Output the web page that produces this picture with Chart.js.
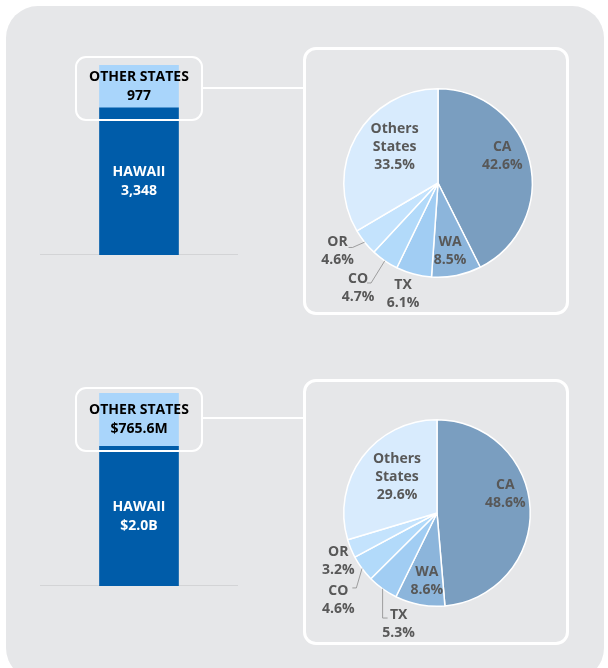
<!DOCTYPE html>
<html>
<head>
<meta charset="utf-8">
<script src="https://cdn.jsdelivr.net/npm/chart.js@4"></script>
<style>
  body { margin: 0; width: 608px; height: 668px; overflow: hidden; position: relative; background: #fff; font-family: "Open Sans", sans-serif; }
  #panel { position: absolute; left: 6px; top: 6px; width: 598px; height: 674px; background: #e6e7e9; border-radius: 32px; }
  .abs { position: absolute; }
  .tag { position: absolute; border: 2.5px solid #fff; border-radius: 11px; box-sizing: border-box; pointer-events: none; }
  .frame { position: absolute; border: 3px solid #fff; border-radius: 13px; box-sizing: border-box; }
  .link { position: absolute; height: 2px; background: #fff; }
</style>
</head>
<body>
<div id="panel"></div>

<!-- rangée du haut : visiteurs -->
<div class="frame" style="left:303px;top:47px;width:266px;height:268px"></div>
<canvas id="bar1" class="abs" style="left:40px;top:60px" width="198" height="195"></canvas>
<div class="tag" style="left:75px;top:56px;width:128px;height:65px"></div>
<div class="link" style="left:202px;top:87px;width:102px"></div>
<canvas id="pie1" class="abs" style="left:306px;top:50px" width="260" height="262"></canvas>

<!-- rangée du bas : dépenses -->
<div class="frame" style="left:303px;top:379px;width:266px;height:266px"></div>
<canvas id="bar2" class="abs" style="left:40px;top:388px" width="198" height="198"></canvas>
<div class="tag" style="left:75px;top:387px;width:128px;height:65px"></div>
<div class="link" style="left:202px;top:417px;width:102px"></div>
<canvas id="pie2" class="abs" style="left:306px;top:383px" width="260" height="259"></canvas>

<script>
// Données
const barNames = ["HAWAII", "OTHER STATES"];
const visitors = [3348, 977];
const visitorsText = ["3,348", "977"];
const spending = [2000, 765.6];
const spendingText = ["$2.0B", "$765.6M"];

const pieStates = ["CA", "WA", "TX", "CO", "OR", "Others States"];
const visitorShares = [42.6, 8.5, 6.1, 4.7, 4.6, 33.5];
const spendingShares = [48.6, 8.6, 5.3, 4.6, 3.2, 29.6];

// Styles
const barColors = ["#005ca9", "#a9d5fb"];
const barTextColors = ["#ffffff", "#000000"];
const pieColors = ["#7a9ec0", "#8cb5db", "#a1cdf3", "#b2dafa", "#c4e3fd", "#d8ebfd"];
const FONT = '"Open Sans", sans-serif';

// placement des étiquettes : décalage d'angle (deg) et rayon relatif
const labelPos1 = [
  { da: -9.6, r: 0.74 }, { da: 1.3, r: 0.73 }, { da: 2.6, r: 1.23, lead: [[-11, -6], [-16, -6]], noLead: true },
  { da: 2.9, r: 1.4, lead: [[13, -5], [9, -5]] }, { da: 4.6, r: 1.29, lead: [[15, -4], [11, -4]] }, { da: 10.2, r: 0.6 }
];
const labelPos2 = [
  { da: -13.1, r: 0.76 }, { da: -2.1, r: 0.74 }, { da: -16.6, r: 1.26, lead: [[-16, -6], [-11, -6]] },
  { da: -4.9, r: 1.41, lead: [[18, -12], [14, -12]] }, { da: -3.7, r: 1.18 }, { da: 5.6, r: 0.58 }
];

const barLabelPlugin = {
  id: "barLabels",
  afterDatasetsDraw(chart, args, opts) {
    const ctx = chart.ctx;
    ctx.save();
    ctx.font = "bold 14px " + FONT;
    ctx.textAlign = "center";
    ctx.textBaseline = "middle";
    chart.data.datasets.forEach((ds, i) => {
      const bar = chart.getDatasetMeta(i).data[0];
      const cy = (bar.y + bar.base) / 2;
      ctx.fillStyle = barTextColors[i];
      ctx.fillText(ds.label, bar.x, cy - 9.5);
      ctx.fillText(opts.texts[i], bar.x, cy + 9.5);
    });
    ctx.restore();
  },
};

const pieLabelPlugin = {
  id: "pieLabels",
  afterDatasetsDraw(chart, args, opts) {
    const ctx = chart.ctx;
    const arcs = chart.getDatasetMeta(0).data;
    const values = chart.data.datasets[0].data;
    ctx.save();
    ctx.font = "bold 14px " + FONT;
    ctx.textAlign = "center";
    ctx.textBaseline = "middle";
    ctx.fillStyle = "#585858";
    arcs.forEach((arc, i) => {
      const p = opts.pos[i];
      const mid = (arc.startAngle + arc.endAngle) / 2;
      const a = mid + (p.da * Math.PI) / 180;
      const lx = arc.x + Math.cos(a) * arc.outerRadius * p.r;
      const ly = arc.y + Math.sin(a) * arc.outerRadius * p.r;
      const lines = chart.data.labels[i].split(" ");
      lines.push(values[i].toFixed(1) + "%");
      lines.forEach((t, k) => {
        ctx.fillText(t, lx, ly + (k - (lines.length - 1) / 2) * 18);
      });
      if (p.lead && !p.noLead) {
        ctx.strokeStyle = "#8a8a8a";
        ctx.lineWidth = 0.8;
        ctx.beginPath();
        ctx.moveTo(arc.x + Math.cos(mid) * arc.outerRadius, arc.y + Math.sin(mid) * arc.outerRadius);
        p.lead.forEach((pt) => ctx.lineTo(lx + pt[0], ly + pt[1]));
        ctx.stroke();
      }
    });
    ctx.restore();
  },
};

function makeBar(id, values, texts) {
  const total = values.reduce((s, v) => s + v, 0);
  new Chart(document.getElementById(id), {
    type: "bar",
    data: {
      labels: [""],
      datasets: values.map((v, i) => ({
        label: barNames[i],
        data: [v],
        backgroundColor: barColors[i],
        barThickness: 79,
      })),
    },
    options: {
      responsive: false,
      animation: false,
      layout: { padding: { top: 5, left: 0, right: 0, bottom: 0 } },
      plugins: { legend: { display: false }, tooltip: { enabled: false }, barLabels: { texts: texts } },
      scales: {
        x: {
          stacked: true,
          grid: { display: false, drawTicks: false },
          ticks: { display: false },
          border: { display: true, color: "#d3d4d6", width: 1.5 },
        },
        y: { stacked: true, display: false, min: 0, max: total },
      },
    },
    plugins: [barLabelPlugin],
  });
}

function makePie(id, shares, pos, pad) {
  new Chart(document.getElementById(id), {
    type: "pie",
    data: {
      labels: pieStates,
      datasets: [
        {
          data: shares,
          backgroundColor: pieColors,
          borderColor: "#ffffff",
          borderWidth: 1.5,
        },
      ],
    },
    options: {
      responsive: false,
      animation: false,
      layout: { padding: pad },
      plugins: { legend: { display: false }, tooltip: { enabled: false }, pieLabels: { pos: pos } },
    },
    plugins: [pieLabelPlugin],
  });
}

makeBar("bar1", visitors, visitorsText);
makeBar("bar2", spending, spendingText);
labelPos1[2].noLead = true;
makePie("pie1", visitorShares, labelPos1, { left: 37, right: 33, top: 38, bottom: 34 });
makePie("pie2", spendingShares, labelPos2, { left: 37, right: 35, top: 36, bottom: 35 });
</script>
</body>
</html>
